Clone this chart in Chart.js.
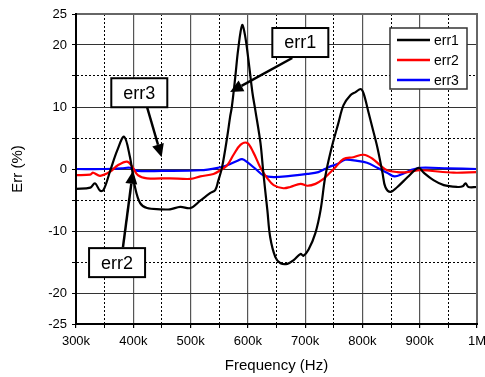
<!DOCTYPE html>
<html>
<head>
<meta charset="utf-8">
<script src="https://cdn.jsdelivr.net/npm/chart.js@4.4.1/dist/chart.umd.min.js"></script>
<style>
  html, body { margin: 0; padding: 0; background: #ffffff; }
  #wrap { width: 485px; height: 377px; }
</style>
</head>
<body>
<div id="wrap"><canvas id="c" width="485" height="377"></canvas></div>
<script>
// ---- data (frequency in kHz, error in %) ----
const seriesNames = ['err1', 'err2', 'err3'];

const freq1 = [300, 325, 333, 342, 348, 360, 372, 384, 394, 403, 412, 424, 447, 464, 482, 500, 517, 534, 543, 548, 555, 564, 569, 572, 578, 583, 590, 595, 601, 608, 613, 622, 627, 634, 639, 648, 657, 669, 680, 692, 697, 706, 718, 727, 735, 745, 758, 767, 779, 788, 797, 802, 811, 817, 826, 835, 840, 849, 861, 879, 898, 907, 924, 942, 966, 975, 980, 985, 1000];
const err1 = [-3.2, -3.0, -2.3, -3.5, -3.4, -0.2, 3.0, 5.2, 2.0, -2.9, -5.5, -6.3, -6.5, -6.5, -6.1, -6.3, -5.1, -3.9, -3.4, -2.0, 0.3, 5.2, 8.4, 10.0, 14.8, 19.2, 23.2, 21.6, 17.6, 12.3, 9.5, 4.2, -0.6, -6.6, -11.0, -14.2, -15.2, -15.3, -14.7, -13.7, -14.0, -13.0, -10.3, -6.6, -1.3, 3.0, 7.4, 10.3, 11.9, 12.4, 12.9, 12.2, 9.0, 6.8, 3.5, -0.6, -2.9, -3.7, -2.9, -1.3, 0.2, -0.6, -1.8, -2.6, -2.9, -2.8, -2.3, -2.9, -2.9];

const freq2 = [300, 325, 330, 342, 360, 373, 389, 398, 408, 424, 464, 500, 517, 540, 552, 564, 575, 587, 599, 610, 622, 634, 645, 662, 674, 692, 704, 718, 732, 741, 753, 767, 784, 802, 817, 831, 843, 861, 879, 901, 959, 1000];
const err2 = [-1.0, -0.9, -0.6, -1.1, -0.4, 0.6, 1.2, 0.4, -1.0, -1.5, -1.5, -1.6, -1.2, -0.8, -0.2, 0.6, 2.3, 3.9, 4.2, 2.6, 0.2, -1.5, -2.6, -3.1, -2.9, -2.4, -2.7, -2.4, -1.6, -0.8, 0.3, 1.6, 1.9, 2.3, 1.7, 0.6, -0.2, -0.5, -0.5, -0.2, -0.6, -0.5];

const freq3 = [300, 350, 380, 394, 407, 450, 517, 548, 564, 581, 590, 599, 616, 627, 645, 674, 704, 723, 741, 756, 770, 791, 808, 826, 843, 856, 870, 884, 901, 950, 1000];
const err3 = [0.0, 0.0, 0.1, 0.2, -0.3, -0.3, -0.2, 0.2, 0.6, 1.3, 1.6, 1.1, -0.2, -1.0, -1.3, -1.1, -0.8, -0.5, 0.3, 0.8, 1.5, 1.3, 1.0, 0.2, -0.6, -1.2, -0.8, -0.2, 0.2, 0.1, 0.0];

// tick labels
const xTickValues = [300, 400, 500, 600, 700, 800, 900, 1000];
const xTickLabels = ['300k', '400k', '500k', '600k', '700k', '800k', '900k', '1M'];
const yTickLabels = [25, 20, 10, 0, -10, -20, -25];

// callout annotations: label, box centre, arrow start, arrow tip (kHz, %)
const calloutLabels = ['err1', 'err2', 'err3'];
const calloutBox = [[691.6, 20.4], [371.7, -15.1], [410.5, 12.3]];
const calloutFrom = [[677.5, 17.9], [382.0, -12.6], [424.0, 10.0]];
const calloutTo = [[569.0, 12.4], [399.5, -0.3], [449.5, 1.9]];

const colors = ['#000000', '#ff0000', '#0000ff'];

function pts(f, v) { return f.map((x, i) => ({ x: x * 1000, y: v[i] })); }

const FONT = '"Liberation Sans", Arial, Helvetica, sans-serif';

const overlay = {
  id: 'overlay',
  afterDatasetsDraw(chart) {
    const ctx = chart.ctx;
    const xs = chart.scales.x, ys = chart.scales.y;
    const a = chart.chartArea;
    ctx.save();
    // frame: top/right gray, left/bottom black
    ctx.lineWidth = 2;
    ctx.strokeStyle = '#666666';
    ctx.beginPath();
    ctx.moveTo(a.left, a.top); ctx.lineTo(a.right, a.top); ctx.lineTo(a.right, a.bottom);
    ctx.stroke();
    ctx.strokeStyle = '#000000';
    ctx.beginPath();
    ctx.moveTo(a.left, a.top - 1); ctx.lineTo(a.left, a.bottom); ctx.lineTo(a.right + 1, a.bottom);
    ctx.stroke();

    // callouts
    ctx.font = '18px ' + FONT;
    for (let i = 0; i < calloutLabels.length; i++) {
      const x0 = xs.getPixelForValue(calloutFrom[i][0] * 1000), y0 = ys.getPixelForValue(calloutFrom[i][1]);
      const x1 = xs.getPixelForValue(calloutTo[i][0] * 1000), y1 = ys.getPixelForValue(calloutTo[i][1]);
      const ang = Math.atan2(y1 - y0, x1 - x0);
      const hl = 13, hw = 6;
      const bx = x1 - hl * Math.cos(ang), by = y1 - hl * Math.sin(ang);
      ctx.strokeStyle = '#000'; ctx.fillStyle = '#000'; ctx.lineWidth = 2.5;
      ctx.beginPath(); ctx.moveTo(x0, y0); ctx.lineTo(bx, by); ctx.stroke();
      ctx.beginPath();
      ctx.moveTo(x1, y1);
      ctx.lineTo(bx + hw * Math.sin(ang), by - hw * Math.cos(ang));
      ctx.lineTo(bx - hw * Math.sin(ang), by + hw * Math.cos(ang));
      ctx.closePath(); ctx.fill();

      const cx = xs.getPixelForValue(calloutBox[i][0] * 1000), cy = ys.getPixelForValue(calloutBox[i][1]);
      const w = 56, h = 29;
      ctx.fillStyle = '#fff';
      ctx.fillRect(cx - w / 2, cy - h / 2, w, h);
      ctx.lineWidth = 2; ctx.strokeStyle = '#000';
      ctx.strokeRect(cx - w / 2, cy - h / 2, w, h);
      ctx.fillStyle = '#000'; ctx.textAlign = 'center'; ctx.textBaseline = 'middle';
      ctx.fillText(calloutLabels[i], cx, cy + 1);
    }

    // legend box (top right inside the plot)
    const lx = a.right - 87, ly = a.top + 14, lw = 77, lh = 61;
    ctx.fillStyle = '#fff';
    ctx.fillRect(lx, ly, lw, lh);
    ctx.lineWidth = 1.5; ctx.strokeStyle = '#333';
    ctx.strokeRect(lx, ly, lw, lh);
    ctx.font = '14px ' + FONT; ctx.textAlign = 'left'; ctx.textBaseline = 'middle';
    chart.data.datasets.forEach((ds, i) => {
      const yy = ly + 12 + i * 20;
      ctx.strokeStyle = ds.borderColor; ctx.lineWidth = 2.5;
      ctx.beginPath(); ctx.moveTo(lx + 7, yy); ctx.lineTo(lx + 40, yy); ctx.stroke();
      ctx.fillStyle = '#000';
      ctx.fillText(ds.label, lx + 44, yy + 1);
    });
    ctx.restore();
  }
};

new Chart(document.getElementById('c'), {
  type: 'line',
  data: {
    datasets: [
      { label: seriesNames[0], data: pts(freq1, err1), borderColor: colors[0] },
      { label: seriesNames[1], data: pts(freq2, err2), borderColor: colors[1] },
      { label: seriesNames[2], data: pts(freq3, err3), borderColor: colors[2] }
    ].map(d => Object.assign(d, { borderWidth: 2.2, pointRadius: 0, fill: false, tension: 0.35 }))
  },
  options: {
    responsive: false,
    animation: false,
    layout: { padding: { left: 0, right: 8, top: 14, bottom: 0 } },
    plugins: { legend: { display: false }, tooltip: { enabled: false } },
    scales: {
      x: {
        type: 'linear', min: 300000, max: 1000000,
        afterFit(s) { s.height = 53; s.paddingLeft = 0; s.paddingRight = 0; },
        afterBuildTicks(s) {
          const t = [];
          for (let v = 300000; v <= 1000000; v += 50000) t.push({ value: v });
          s.ticks = t;
        },
        ticks: {
          autoSkip: false, maxRotation: 0, padding: 6, color: '#000',
          font: { family: FONT, size: 13 },
          callback(v) {
            const i = xTickValues.indexOf(Math.round(v / 1000));
            return i >= 0 ? xTickLabels[i] : '';
          }
        },
        grid: {
          tickLength: 4, tickColor: '#000', tickBorderDash: [],
          color(c) { return (c.tick && c.tick.value % 100000 === 0) ? '#555' : '#000'; },
          lineWidth(c) { return (c.tick && c.tick.value % 100000 === 0) ? 1.2 : 1; }
        },
        border: {
          color: '#000', width: 2,
          dash(c) { return (c.tick && c.tick.value % 100000 !== 0) ? [2, 2] : []; }
        },
        title: { display: true, text: 'Frequency (Hz)', color: '#000', font: { family: FONT, size: 15 }, padding: { top: 0, bottom: 2 } }
      },
      y: {
        min: -25, max: 25,
        afterFit(s) { s.width = 76; s.paddingTop = 0; s.paddingBottom = 0; },
        afterBuildTicks(s) {
          const t = [];
          for (let v = -25; v <= 25; v += 5) t.push({ value: v });
          s.ticks = t;
        },
        ticks: {
          autoSkip: false, padding: 5, color: '#000',
          font: { family: FONT, size: 13 },
          callback(v) { return yTickLabels.indexOf(v) >= 0 ? String(v) : ''; }
        },
        grid: {
          tickLength: 4, tickColor: '#000', tickBorderDash: [],
          color(c) { return (c.tick && c.tick.value % 10 === 0) ? '#333' : '#000'; },
          lineWidth(c) { return 1; }
        },
        border: {
          color: '#000', width: 2,
          dash(c) { return (c.tick && Math.abs(c.tick.value) % 10 === 5 && Math.abs(c.tick.value) !== 25) ? [2, 2] : []; }
        },
        title: { display: true, text: 'Err (%)', color: '#000', font: { family: FONT, size: 15 }, padding: { top: 9, bottom: 0 } }
      }
    }
  },
  plugins: [overlay]
});
</script>
</body>
</html>
